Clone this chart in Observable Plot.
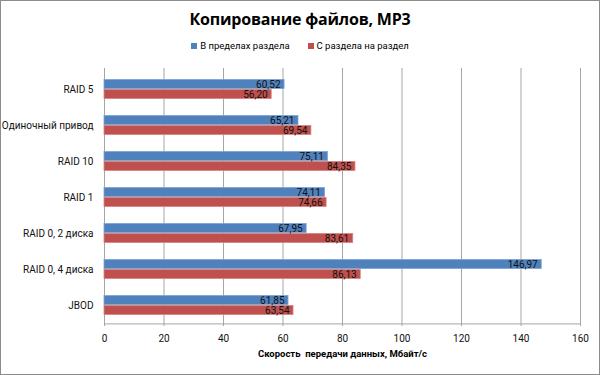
<!DOCTYPE html>
<html><head><meta charset="utf-8">
<script src="https://cdn.jsdelivr.net/npm/d3@7"></script>
<script src="https://cdn.jsdelivr.net/npm/@observablehq/plot@0.6"></script>
<style>
body{margin:0;background:#fff;font-family:Roboto,sans-serif;}
#wrap{position:relative;width:600px;height:375px;overflow:hidden;}
#border{position:absolute;left:0;top:0;width:600px;height:375px;box-sizing:border-box;border:1px solid #8c8c8c;pointer-events:none;}
#title{position:absolute;left:0;width:600px;top:8px;text-align:center;font-family:"Open Sans",sans-serif;font-size:16px;font-weight:bold;color:#000;letter-spacing:-0.2px;}
#legend{position:absolute;left:0;width:600px;top:40px;text-align:center;font-size:9.5px;color:#000;}
#legend span.sw{display:inline-block;width:6px;height:6px;margin-right:3px;vertical-align:0px;}
#legend span.it{margin:0 9px;}
#chart{position:absolute;left:0;top:0;}
</style></head>
<body>
<div id="wrap">
  <div id="chart"></div>
  <div id="title">Копирование файлов, MP3</div>
  <div id="legend"></div>
  <div id="border"></div>
</div>
<script>
const categories = ["RAID 5", "Одиночный привод", "RAID 10", "RAID 1", "RAID 0, 2 диска", "RAID 0, 4 диска", "JBOD"];
const seriesNames = ["В пределах раздела", "С раздела на раздел"];
const withinValues = [60.52, 65.21, 75.11, 74.11, 67.95, 146.97, 61.85];
const acrossValues = [56.20, 69.54, 84.35, 74.66, 83.61, 86.13, 63.54];
const xTicks = [0, 20, 40, 60, 80, 100, 120, 140, 160];
const colors = ["#4F81BD", "#C0504D"];
const xLabel = "Скорость  передачи данных, Мбайт/с";

const within = categories.map((c, i) => ({category: c, value: withinValues[i]}));
const across = categories.map((c, i) => ({category: c, value: acrossValues[i]}));

const lg = document.getElementById("legend");
seriesNames.forEach((s, i) => {
  const it = document.createElement("span");
  it.className = "it";
  it.innerHTML = `<span class="sw" style="background:${colors[i]}"></span>${s}`;
  lg.appendChild(it);
});

const fmt = v => v.toFixed(2).replace(".", ",");
const mTop = 68, mBottom = 49, bw = (375 - mTop - mBottom) / categories.length;
const half = bw / 2;

const plot = Plot.plot({
  width: 600,
  height: 375,
  marginTop: mTop,
  marginBottom: mBottom,
  marginLeft: 104,
  marginRight: 20,
  style: {fontFamily: "Roboto, sans-serif", fontSize: "10px", color: "#000", background: "transparent"},
  x: {domain: [0, 160], ticks: xTicks, tickSize: 0, tickPadding: 8, label: null, tickFormat: d => d},
  y: {domain: categories, padding: 0, tickSize: 0, tickPadding: 11, label: null},
  marks: [
    Plot.ruleX(xTicks, {stroke: "#a6a6a6", strokeWidth: 1}),
    Plot.ruleY([categories[categories.length - 1]], {stroke: "#a6a6a6", dy: half}),
    Plot.barX(within, {x: "value", y: "category", fill: colors[0], stroke: "#7fa3d1", strokeWidth: 0.8, insetTop: half - 10, insetBottom: half}),
    Plot.barX(across, {x: "value", y: "category", fill: colors[1], stroke: "#d68583", strokeWidth: 0.8, insetTop: half, insetBottom: half - 10}),
    Plot.text(within, {x: "value", y: "category", text: d => fmt(d.value), textAnchor: "end", dx: -4, dy: -5, fill: "#111", fontSize: 10}),
    Plot.text(across, {x: "value", y: "category", text: d => fmt(d.value), textAnchor: "end", dx: -4, dy: 5, fill: "#111", fontSize: 10}),
    Plot.text([xLabel], {frameAnchor: "bottom", dy: 30, fontWeight: "bold", fontSize: 9.5, fill: "#000"})
  ]
});
plot.querySelectorAll("[aria-label='x-axis tick label'] text, [aria-label='y-axis tick label'] text").forEach(t => t.setAttribute("fill", "#111"));
document.getElementById("chart").appendChild(plot);
</script>
</body></html>
